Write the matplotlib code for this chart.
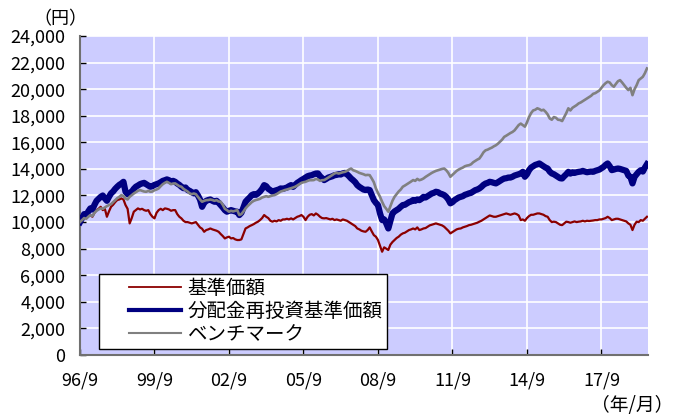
import numpy as np
import matplotlib
matplotlib.use("Agg")
import matplotlib.pyplot as plt
from matplotlib.lines import Line2D
from matplotlib.legend_handler import HandlerLine2D

plt.rcParams['font.family'] = ['Noto Sans CJK JP', 'DejaVu Sans']

# ---- data (monthly, 1996/9 .. 2019/7) ----
start_year, start_month = 1996, 9

nav = [  # 基準価額
    10000, 10250, 10500, 10400,
    10450, 10530, 10400, 10700, 10900, 11000, 11150, 10900, 11000, 10400, 10800, 11150,
    11300, 11500, 11660, 11700, 11780, 11700, 11280, 11000, 9900, 10300, 10780, 10900,
    11030, 10950, 11000, 10900, 10850, 10900, 10600, 10400, 10280, 10700, 10900, 11000,
    10900, 11030, 11000, 10950, 10850, 10900, 10900, 10600, 10400, 10280, 10100, 10000,
    10000, 9950, 9900, 9950, 10000, 9800, 9600, 9500, 9270, 9400, 9450, 9520,
    9450, 9400, 9350, 9270, 9100, 8950, 8770, 8850, 8900, 8770, 8800, 8700,
    8650, 8650, 8700, 9100, 9520, 9600, 9700, 9770, 9850, 9950, 10030, 10150,
    10300, 10530, 10400, 10300, 10100, 10030, 10100, 10050, 10150, 10100, 10200, 10200,
    10250, 10200, 10280, 10200, 10300, 10400, 10450, 10530, 10400, 10150, 10400, 10550,
    10600, 10500, 10650, 10550, 10400, 10300, 10280, 10300, 10250, 10200, 10250, 10150,
    10200, 10150, 10100, 10200, 10150, 10100, 10000, 9900, 9800, 9700, 9520, 9450,
    9350, 9300, 9270, 9400, 9600, 9300, 9020, 8900, 8650, 8200, 7770, 8100,
    8000, 7900, 8300, 8500, 8650, 8800, 8900, 9050, 9150, 9200, 9300, 9400,
    9450, 9520, 9450, 9600, 9400, 9450, 9520, 9550, 9650, 9750, 9800, 9850,
    9900, 9850, 9800, 9750, 9650, 9500, 9350, 9150, 9250, 9350, 9450, 9500,
    9520, 9600, 9650, 9700, 9770, 9800, 9850, 9900, 9950, 10030, 10100, 10200,
    10300, 10400, 10500, 10450, 10400, 10400, 10450, 10500, 10550, 10600, 10650, 10600,
    10550, 10600, 10650, 10600, 10500, 10150, 10200, 10100, 10300, 10450, 10550, 10550,
    10600, 10650, 10650, 10600, 10550, 10450, 10400, 10150, 10000, 10030, 10000, 9900,
    9800, 9770, 9900, 10030, 10000, 9950, 10000, 10050, 10000, 10030, 10050, 10100,
    10050, 10100, 10080, 10100, 10120, 10150, 10150, 10200, 10200, 10250, 10300, 10400,
    10300, 10150, 10200, 10250, 10250, 10200, 10150, 10100, 10050, 9900, 9800, 9400,
    9800, 10030, 10000, 10150, 10100, 10250, 10400,
]

nav_reinvested = [  # 分配金再投資基準価額
    10000, 10300, 10600, 10500,
    10800, 11030, 10950, 11300, 11600, 11750, 11900, 12000, 11780, 11600, 11900, 12160,
    12300, 12500, 12660, 12800, 12900, 13030, 12280, 12100, 12200, 12280, 12500, 12660,
    12750, 12850, 12910, 12950, 12850, 12750, 12660, 12700, 12800, 12850, 12910, 13000,
    13100, 13150, 13210, 13150, 13050, 13100, 13030, 12900, 12800, 12660, 12550, 12600,
    12410, 12350, 12250, 12160, 12250, 12000, 11700, 11150, 11450, 11600, 11660, 11700,
    11600, 11530, 11600, 11450, 11280, 11100, 10900, 10780, 10850, 10900, 10850, 10800,
    10780, 10530, 10700, 11100, 11530, 11700, 11850, 12030, 12100, 12050, 12160, 12300,
    12500, 12780, 12700, 12500, 12400, 12280, 12350, 12400, 12450, 12530, 12500, 12550,
    12600, 12700, 12780, 12650, 12800, 12950, 13050, 13160, 13250, 13350, 13450, 13500,
    13530, 13600, 13650, 13660, 13450, 13300, 13160, 13250, 13350, 13400, 13450, 13530,
    13550, 13600, 13580, 13660, 13700, 13600, 13450, 13280, 13150, 13000, 12780, 12650,
    12550, 12450, 12410, 12450, 12410, 12030, 11660, 11450, 11280, 10650, 10150, 10200,
    9900, 9520, 10100, 10650, 10800, 10900, 11000, 11150, 11280, 11300, 11400, 11500,
    11550, 11660, 11600, 11700, 11650, 11750, 11900, 11850, 11950, 12050, 12150, 12200,
    12280, 12250, 12150, 12100, 12030, 11900, 11700, 11410, 11500, 11650, 11750, 11850,
    11900, 11950, 12050, 12100, 12160, 12200, 12300, 12400, 12450, 12530, 12650, 12800,
    12900, 12950, 13030, 13000, 12950, 12910, 13000, 13100, 13200, 13280, 13300, 13350,
    13350, 13410, 13500, 13550, 13600, 13660, 13780, 13410, 13600, 13900, 14100, 14200,
    14300, 14350, 14410, 14300, 14200, 14100, 14030, 13800, 13660, 13600, 13500, 13400,
    13300, 13280, 13450, 13600, 13780, 13650, 13750, 13700, 13750, 13780, 13800, 13850,
    13800, 13750, 13780, 13800, 13780, 13850, 13900, 13950, 14050, 14150, 14300, 14410,
    14200, 13910, 13950, 14000, 14030, 14000, 13950, 13900, 13850, 13500, 13400, 12910,
    13400, 13600, 13780, 13900, 13800, 14100, 14350,
]

benchmark = [  # ベンチマーク
    10000, 10150, 10300, 10250,
    10400, 10530, 10450, 10700, 10850, 10950, 11030, 11000, 11100, 11200, 11280, 11350,
    11500, 11660, 11800, 11900, 12030, 11950, 11780, 11700, 11900, 12030, 12150, 12250,
    12350, 12410, 12350, 12300, 12280, 12350, 12280, 12300, 12400, 12450, 12530, 12700,
    12850, 12950, 13030, 12950, 12850, 12900, 12910, 12800, 12700, 12660, 12500, 12400,
    12300, 12160, 12100, 12150, 12100, 11900, 11700, 11530, 11600, 11650, 11660, 11700,
    11660, 11600, 11650, 11550, 11530, 11300, 11000, 10900, 10780, 10850, 10800, 10850,
    10900, 10530, 10600, 10800, 11030, 11200, 11350, 11500, 11600, 11660, 11700, 11750,
    11850, 11900, 11950, 11900, 11950, 12000, 12030, 12100, 12200, 12300, 12350, 12410,
    12450, 12500, 12550, 12600, 12660, 12750, 12850, 12950, 13000, 13030, 13100, 13150,
    13150, 13160, 13250, 13200, 13100, 13150, 13160, 13250, 13350, 13450, 13550, 13660,
    13700, 13650, 13700, 13750, 13780, 13850, 13950, 14030, 13900, 13850, 13780, 13700,
    13650, 13600, 13530, 13550, 13530, 13280, 13000, 12530, 12200, 11900, 11530, 11200,
    11000, 10780, 11200, 11600, 11900, 12100, 12300, 12450, 12660, 12750, 12850, 12950,
    13050, 13160, 13100, 13250, 13150, 13200, 13280, 13400, 13500, 13600, 13700, 13780,
    13850, 13900, 13950, 14000, 14030, 13900, 13700, 13410, 13550, 13700, 13850, 13950,
    14030, 14100, 14200, 14250, 14280, 14350, 14500, 14600, 14700, 14780, 15000, 15250,
    15400, 15450, 15530, 15600, 15700, 15780, 15900, 16050, 16200, 16410, 16500, 16600,
    16700, 16780, 16900, 17100, 17300, 17410, 17300, 17180, 17500, 17900, 18200, 18400,
    18450, 18560, 18500, 18400, 18450, 18300, 18100, 17800, 17700, 17900, 17850, 17700,
    17680, 17600, 17900, 18200, 18560, 18400, 18600, 18700, 18800, 18930, 19000, 19100,
    19200, 19300, 19400, 19500, 19650, 19700, 19800, 19900, 20100, 20300, 20450, 20560,
    20500, 20300, 20180, 20400, 20600, 20680, 20500, 20300, 20100, 19930, 20100, 19550,
    20000, 20300, 20680, 20800, 20930, 21200, 21560,
]

series_labels = ["基準価額", "分配金再投資基準価額", "ベンチマーク"]
series_colors = ["#8B0000", "#000080", "#808080"]
x_tick_labels = ["96/9", "99/9", "02/9", "05/9", "08/9", "11/9", "14/9", "17/9"]
x_tick_months = [0, 36, 72, 108, 144, 180, 216, 252]
y_ticks = list(range(0, 24001, 2000))

months = np.arange(len(nav))

# ---- figure ----
W, H = 673, 419
fig = plt.figure(figsize=(W / 100, H / 100), dpi=100)
ax = fig.add_axes([80 / W, 1 - 355 / H, 568 / W, 319 / H])
ax.set_facecolor("#CCCCFF")

line_widths = [1.6, 4.5, 1.9]
legend_widths = [1.3, 3.0, 1.5]
lines = []
for data, lab, col, lw in zip([nav, nav_reinvested, benchmark], series_labels,
                              series_colors, line_widths):
    ln, = ax.plot(months, data, color=col, lw=lw, label=lab, solid_joinstyle="round", zorder=3)
    lines.append(ln)

ax.set_xlim(0, 274.5)
ax.set_ylim(0, 24000)
ax.set_xticks(x_tick_months)
ax.set_xticklabels(x_tick_labels)
ax.set_yticks(y_ticks)
ax.set_yticklabels([f"{v:,}" for v in y_ticks])
ax.grid(True, color="white", lw=1.2, zorder=1)
ax.set_axisbelow(True)
ax.tick_params(axis="both", direction="in", length=4, width=1, color="black", labelsize=13)
ax.tick_params(axis="y", pad=10.5)
ax.tick_params(axis="x", pad=12)
for s in ["top", "right"]:
    ax.spines[s].set_visible(False)
for s in ["left", "bottom"]:
    ax.spines[s].set_color("#707070")
    ax.spines[s].set_linewidth(1.5)


class OffsetLine(HandlerLine2D):
    def __init__(self, frac=0.3, lw=1.0, **kw):
        super().__init__(**kw)
        self.frac = frac
        self.lw = lw

    def create_artists(self, legend, orig_handle, xdescent, ydescent, width, height,
                       fontsize, trans):
        x0 = -xdescent + width * self.frac
        x1 = -xdescent + width
        y = (height - ydescent) / 2
        line = Line2D([x0, x1], [y, y])
        self.update_prop(line, orig_handle, legend)
        line.set_linewidth(self.lw)
        line.set_transform(trans)
        return [line]


handler_map = {ln: OffsetLine(frac=0.33, lw=lw) for ln, lw in zip(lines, legend_widths)}
leg = ax.legend(handles=lines, handler_map=handler_map, loc="lower left",
                bbox_to_anchor=(19 / 568, 6 / 319), borderaxespad=0,
                fontsize=14, frameon=True, fancybox=False, framealpha=1,
                edgecolor="black", handlelength=4.0, handletextpad=0.36,
                labelspacing=0.1, borderpad=0.2)
leg.get_frame().set_linewidth(1.0)
leg.set_zorder(5)

fig.text(60 / W, 1 - 19 / H, "（円）", ha="center", va="center", fontsize=13)
fig.text(673 / W, 1 - 405 / H, "（年/月）", ha="right", va="center", fontsize=13.5)

fig.savefig("out.png", dpi=100)
